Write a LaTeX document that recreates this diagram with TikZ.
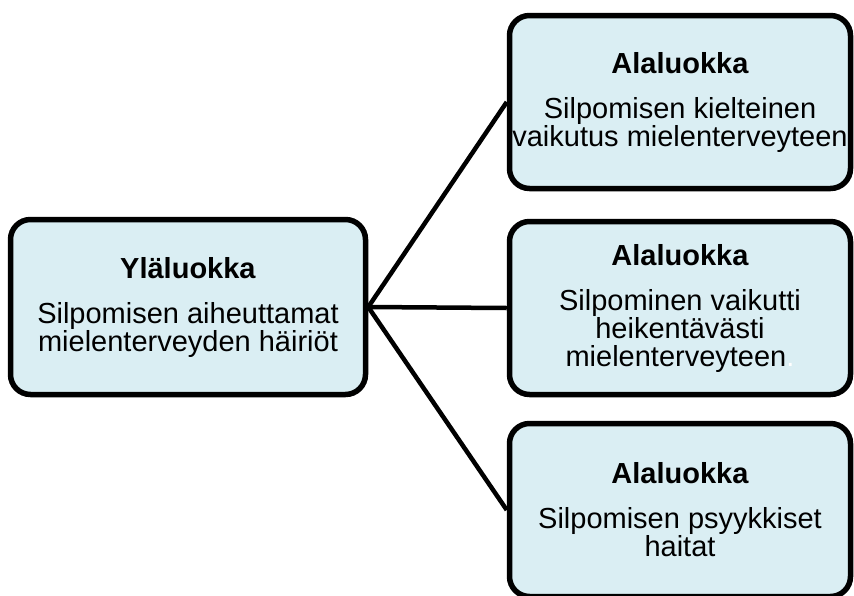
\documentclass[tikz,border=0pt]{standalone}
\usepackage{fontspec}
\setmainfont{Liberation Sans}
\definecolor{laatikko}{HTML}{DAEEF3}
\begin{document}
\begin{tikzpicture}[
          x = 1pt, y = -1pt,
          luokka/.style = {draw, line width=5.5pt, rounded corners=20pt, fill=laatikko,
            minimum width=341pt, minimum height=173pt, inner sep=0pt, align=center,
            font=\fontsize{29}{28}\selectfont},
          yhteys/.style = {draw, line width=4.5pt},
        ]
          \useasboundingbox (0,0) rectangle (854,595);
          \node[luokka, minimum width=355pt, minimum height=175pt] (yla) at (188,307)
            {\textbf{Yläluokka}\\[17pt] Silpomisen aiheuttamat\\ mielenterveyden häiriöt};
          \node[luokka] (ala1) at (680,102)
            {\textbf{Alaluokka}\\[17pt] Silpomisen kielteinen\\ vaikutus mielenterveyteen};
          \node[luokka] (ala2) at (680,308)
            {\textbf{Alaluokka}\\[17pt] Silpominen vaikutti\\ heikentävästi\\ mielenterveyteen{\color{white}.}};
          \node[luokka] (ala3) at (680,510)
            {\textbf{Alaluokka}\\[17pt] Silpomisen psyykkiset\\ haitat};
          \draw[yhteys] (yla.east) -- (ala1.west);
          \draw[yhteys] (yla.east) -- (ala2.west);
          \draw[yhteys] (yla.east) -- (ala3.west);
        \end{tikzpicture}
\end{document}
